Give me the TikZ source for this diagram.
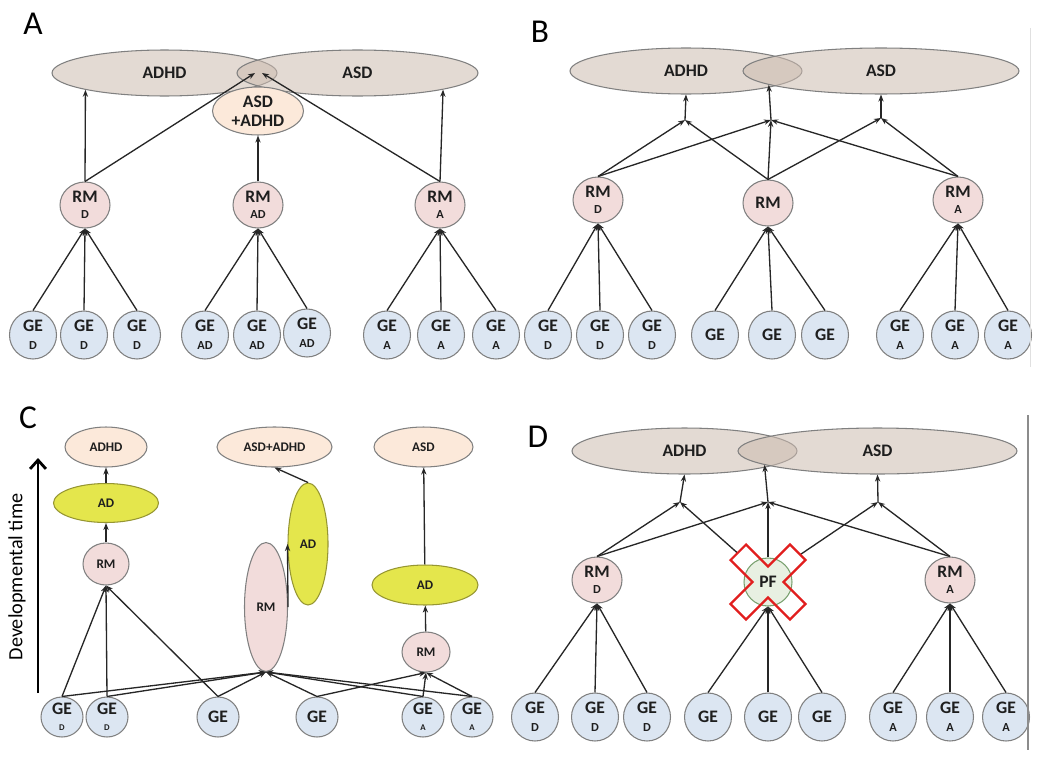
\documentclass[tikz,border=0pt]{standalone}
\usepackage{fontspec}
\setmainfont{Carlito}
\usetikzlibrary{shapes.geometric, arrows.meta, backgrounds}
\definecolor{disfill}{RGB}{205,188,176}
\definecolor{combfill}{RGB}{252,233,218}
\definecolor{rmfill}{RGB}{242,220,219}
\definecolor{gefill}{RGB}{220,230,242}
\definecolor{adfill}{RGB}{228,230,76}
\definecolor{adline}{RGB}{150,150,50}
\definecolor{pffill}{RGB}{232,240,226}
\definecolor{pfline}{RGB}{120,160,110}
\definecolor{edgegray}{RGB}{128,128,128}
\definecolor{textdark}{RGB}{30,30,30}
\definecolor{crossred}{RGB}{225,30,30}

\begin{document}
\begin{tikzpicture}[
    x=0.02cm, y=-0.02cm,
    blob/.style={ellipse, draw=edgegray, line width=0.6pt, inner sep=0pt, align=center, text=textdark, font=\bfseries\fontsize{10}{10}\selectfont},
    disorder/.style={blob, fill=disfill, fill opacity=0.55, text opacity=1, minimum height=0.92cm},
    comb/.style={blob, fill=combfill},
    rm/.style={blob, fill=rmfill, minimum width=1cm, minimum height=0.92cm},
    ge/.style={blob, fill=gefill, minimum width=0.94cm, minimum height=0.96cm},
    ad/.style={blob, fill=adfill, draw=adline},
    pf/.style={blob, fill=pffill, draw=pfline, minimum width=0.96cm, minimum height=0.96cm},
    csize/.style={font=\bfseries\fontsize{7.5}{8}\selectfont},
    arrow/.style={-{Stealth[length=4pt, width=3pt]}, line width=0.75pt, draw=black!85},
    tag/.style={font=\fontsize{19}{19}\selectfont},
]

\begin{scope}[on background layer]
\fill[white] (0,0) rectangle (1050,764);
\end{scope}
\useasboundingbox (0,0) rectangle (1050,764);

% Panel A
\node[tag] (tagA) at (33,24) {A};
\node[disorder, minimum width=4.5cm] (adhdA) at (164.5,73) {ADHD};
\node[disorder, minimum width=4.82cm] (asdA) at (357.5,73) {ASD};
\coordinate (ovlA) at (255,73);
\coordinate (ovrA) at (262,73);
\node[comb, minimum width=1.82cm, minimum height=0.96cm] (combA) at (258,111) {ASD\\[1pt]+ADHD};

\node[rm] (rmdA) at (85,205) {RM\\[-1pt]\scriptsize D};
\node[rm] (rmadA) at (258,205) {RM\\[-1pt]\scriptsize AD};
\node[rm] (rmaA) at (440,205) {RM\\[-1pt]\scriptsize A};

\node[ge] (geA1) at (33,335) {GE\\\scriptsize D};
\node[ge] (geA2) at (84,335) {GE\\\scriptsize D};
\node[ge] (geA3) at (137,335) {GE\\\scriptsize D};
\node[ge] (geA4) at (205,335) {GE\\\scriptsize AD};
\node[ge] (geA5) at (257,335) {GE\\\scriptsize AD};
\node[ge] (geA6) at (307,333) {GE\\\scriptsize AD};
\node[ge] (geA7) at (387,335) {GE\\\scriptsize A};
\node[ge] (geA8) at (441,335) {GE\\\scriptsize A};
\node[ge] (geA9) at (496,335) {GE\\\scriptsize A};

\draw[arrow] (geA1.north) -- (rmdA.south);
\draw[arrow] (geA2.north) -- (rmdA.south);
\draw[arrow] (geA3.north) -- (rmdA.south);
\draw[arrow] (geA4.north) -- (rmadA.south);
\draw[arrow] (geA5.north) -- (rmadA.south);
\draw[arrow] (geA6.north) -- (rmadA.south);
\draw[arrow] (geA7.north) -- (rmaA.south);
\draw[arrow] (geA8.north) -- (rmaA.south);
\draw[arrow] (geA9.north) -- (rmaA.south);

\draw[arrow] (rmdA.north) -- (adhdA.192);
\draw[arrow] (rmdA.north) -- (ovlA);
\draw[arrow] (rmadA.north) -- (combA.south);
\draw[arrow] (rmaA.north) -- (ovrA);
\draw[arrow] (rmaA.north) -- (asdA.349);

% Panel B
\node[tag] (tagB) at (540,32) {B};
\node[disorder, minimum width=4.64cm] (adhdB) at (686,71) {ADHD};
\node[disorder, minimum width=5.52cm] (asdB) at (881,71) {ASD};
\coordinate (j1B) at (685,120);
\coordinate (j2B) at (771,120);
\coordinate (j3B) at (881,118);

\node[rm] (rmdB) at (598,200) {RM\\[-1pt]\scriptsize D};
\node[rm] (rmB) at (768,203) {RM};
\node[rm] (rmaB) at (958,200) {RM\\[-1pt]\scriptsize A};

\node[ge] (geB1) at (548,335) {GE\\\scriptsize D};
\node[ge] (geB2) at (600,335) {GE\\\scriptsize D};
\node[ge] (geB3) at (652,335) {GE\\\scriptsize D};
\node[ge] (geB4) at (715,335) {GE};
\node[ge] (geB5) at (772,335) {GE};
\node[ge] (geB6) at (825,335) {GE};
\node[ge] (geB7) at (900,335) {GE\\\scriptsize A};
\node[ge] (geB8) at (955,335) {GE\\\scriptsize A};
\node[ge] (geB9) at (1008,335) {GE\\\scriptsize A};

\draw[arrow] (geB1.north) -- (rmdB.south);
\draw[arrow] (geB2.north) -- (rmdB.south);
\draw[arrow] (geB3.north) -- (rmdB.south);
\draw[arrow] (geB4.north) -- (rmB.south);
\draw[arrow] (geB5.north) -- (rmB.south);
\draw[arrow] (geB6.north) -- (rmB.south);
\draw[arrow] (geB7.north) -- (rmaB.south);
\draw[arrow] (geB8.north) -- (rmaB.south);
\draw[arrow] (geB9.north) -- (rmaB.south);

\draw[arrow] (rmdB.north) -- (j1B);
\draw[arrow] (rmdB.north) -- (j2B);
\draw[arrow] (rmB.north) -- (j1B);
\draw[arrow] (rmB.north) -- (j2B);
\draw[arrow] (rmB.north) -- (j3B);
\draw[arrow] (rmaB.north) -- (j2B);
\draw[arrow] (rmaB.north) -- (j3B);
\draw[arrow] (j1B) -- (adhdB.south);
\draw[arrow] (j2B) -- (asdB.187);
\draw[arrow] (j3B) -- (asdB.south);

\draw[black!12] (1030,28) -- (1030,367);

% Panel C
\node[tag] (tagC) at (28,418) {C};
\coordinate (tbase) at (38,693);
\coordinate (ttip) at (38,458);
\draw[-{Straight Barb[length=5pt, width=9pt]}, line width=1.6pt] (tbase) -- (ttip);
\node[rotate=90, font=\fontsize{11.5}{11.5}\selectfont] (devtime) at (17,577) {Developmental time};

\node[comb, csize, minimum width=1.64cm, minimum height=0.8cm] (adhdC) at (106,447) {ADHD};
\node[comb, csize, minimum width=2.3cm, minimum height=0.8cm] (combC) at (274.5,447) {ASD+ADHD};
\node[comb, csize, minimum width=1.98cm, minimum height=0.8cm] (asdC) at (423.5,447) {ASD};

\node[ad, csize, minimum width=2.1cm, minimum height=0.78cm] (adC1) at (106,503) {AD};
\node[rm, csize, minimum width=0.92cm, minimum height=0.84cm] (rmC1) at (106,564) {RM};
\node[rm, csize, minimum width=0.86cm, minimum height=2.58cm] (rmC2) at (266,607) {RM};
\node[ad, csize, minimum width=0.8cm, minimum height=2.44cm] (adC2) at (308,544) {AD};
\node[ad, csize, minimum width=2.12cm, minimum height=0.8cm] (adC3) at (425,585) {AD};
\node[rm, csize, minimum width=0.96cm, minimum height=0.8cm] (rmC3) at (426,652) {RM};

\node[ge, minimum width=0.84cm, minimum height=0.8cm] (geC1) at (62,717) {GE\\[-1pt]\tiny D};
\node[ge, minimum width=0.84cm, minimum height=0.8cm] (geC2) at (107,717) {GE\\[-1pt]\tiny D};
\node[ge, minimum width=0.84cm, minimum height=0.8cm] (geC3) at (218,717) {GE};
\node[ge, minimum width=0.84cm, minimum height=0.8cm] (geC4) at (317,717) {GE};
\node[ge, minimum width=0.84cm, minimum height=0.8cm] (geC5) at (423,717) {GE\\[-1pt]\tiny A};
\node[ge, minimum width=0.84cm, minimum height=0.8cm] (geC6) at (472,717) {GE\\[-1pt]\tiny A};

\draw[arrow] (geC1.north) -- (rmC1.south);
\draw[arrow] (geC2.north) -- (rmC1.south);
\draw[arrow] (geC3.north) -- (rmC1.south);
\draw[arrow] (geC1.north) -- (rmC2.south);
\draw[arrow] (geC2.north) -- (rmC2.south);
\draw[arrow] (geC3.north) -- (rmC2.south);
\draw[arrow] (geC4.north) -- (rmC2.south);
\draw[arrow] (geC5.north) -- (rmC2.south);
\draw[arrow] (geC6.north) -- (rmC2.south);
\draw[arrow] (geC4.north) -- (rmC3.south);
\draw[arrow] (geC5.north) -- (rmC3.south);
\draw[arrow] (geC6.north) -- (rmC3.south);

\draw[arrow] (rmC1) -- (adC1);
\draw[arrow] (adC1) -- (adhdC);
\draw[arrow] (rmC2.east) -- (adC2.west);
\draw[arrow] (adC2.north) -- (combC.south);
\draw[arrow] (rmC3) -- (adC3);
\draw[arrow] (adC3) -- (asdC);

% Panel D
\node[tag] (tagD) at (538,437) {D};
\node[disorder, minimum width=4.5cm] (adhdD) at (684.5,451) {ADHD};
\node[disorder, minimum width=5.58cm] (asdD) at (877.5,451) {ASD};
\coordinate (j1D) at (680,502);
\coordinate (j2D) at (768,502);
\coordinate (j3D) at (878,502);

\node[rm] (rmdD) at (597,580) {RM\\[-1pt]\scriptsize D};
\node[pf] (pfD) at (768,582) {PF};
\node[rm] (rmaD) at (950,580) {RM\\[-1pt]\scriptsize A};

\node[ge] (geD1) at (535,717) {GE\\\scriptsize D};
\node[ge] (geD2) at (595,717) {GE\\\scriptsize D};
\node[ge] (geD3) at (647,717) {GE\\\scriptsize D};
\node[ge] (geD4) at (708,717) {GE};
\node[ge] (geD5) at (768,717) {GE};
\node[ge] (geD6) at (822,717) {GE};
\node[ge] (geD7) at (893,717) {GE\\\scriptsize A};
\node[ge] (geD8) at (950,717) {GE\\\scriptsize A};
\node[ge] (geD9) at (1006,717) {GE\\\scriptsize A};

\draw[arrow] (geD1.north) -- (rmdD.south);
\draw[arrow] (geD2.north) -- (rmdD.south);
\draw[arrow] (geD3.north) -- (rmdD.south);
\draw[arrow] (geD4.north) -- (pfD.south);
\draw[arrow] (geD5.north) -- (pfD.south);
\draw[arrow] (geD6.north) -- (pfD.south);
\draw[arrow] (geD7.north) -- (rmaD.south);
\draw[arrow] (geD8.north) -- (rmaD.south);
\draw[arrow] (geD9.north) -- (rmaD.south);

\draw[arrow] (rmdD.north) -- (j1D);
\draw[arrow] (rmdD.north) -- (j2D);
\draw[arrow] (rmaD.north) -- (j2D);
\draw[arrow] (rmaD.north) -- (j3D);
\draw[arrow] (j1D) -- (adhdD.south);
\draw[arrow] (j2D) -- (asdD.187);
\draw[arrow] (j3D) -- (asdD.south);

% PF lines go under the red cross
\begin{scope}[on background layer]
\draw[arrow] (pfD.north west) -- (j1D);
\draw[arrow] (pfD.north) -- (j2D);
\draw[arrow] (pfD.north east) -- (j3D);
\fill[white, shift={(pfD.center)}, rotate=45] (11,11) -- (42,11) -- (42,-11) -- (11,-11) -- (11,-42) -- (-11,-42) -- (-11,-11) -- (-42,-11) -- (-42,11) -- (-11,11) -- (-11,42) -- (11,42) -- cycle;
\end{scope}
\draw[crossred, line width=1.3pt, line join=miter, shift={(pfD.center)}, rotate=45] (11,11) -- (42,11) -- (42,-11) -- (11,-11) -- (11,-42) -- (-11,-42) -- (-11,-11) -- (-42,-11) -- (-42,11) -- (-11,11) -- (-11,42) -- (11,42) -- cycle;

\draw[black!45, line width=0.8pt] (1028,415) -- (1028,750);

\end{tikzpicture}
\end{document}
